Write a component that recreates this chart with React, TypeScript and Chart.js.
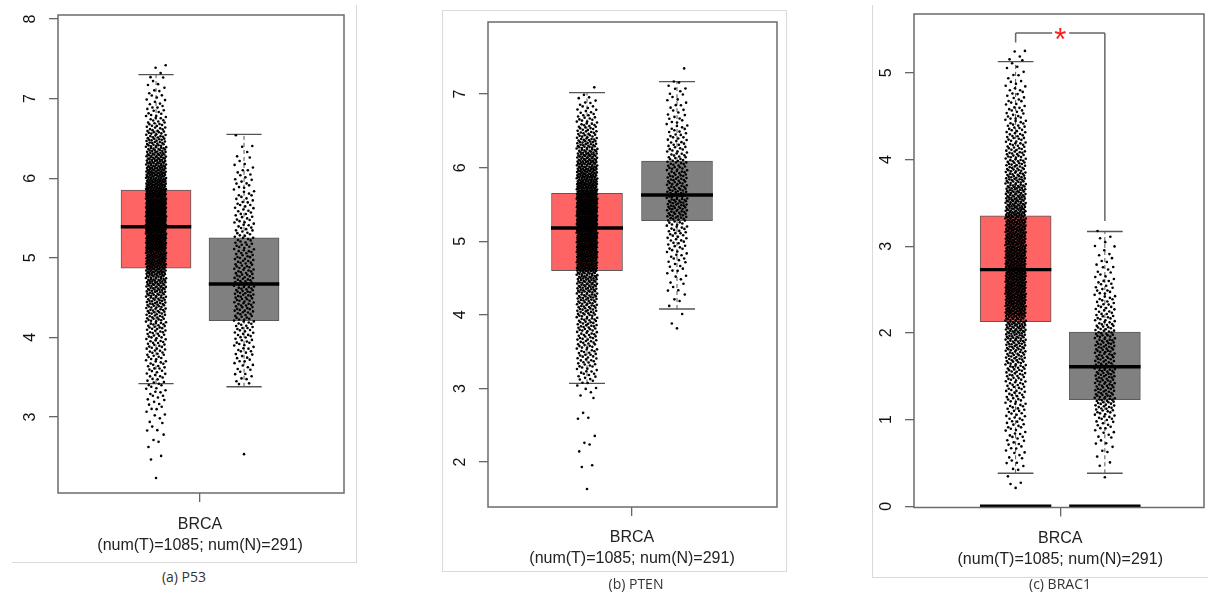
import React, { useEffect, useRef } from "react";
import { Chart, registerables } from "chart.js";

Chart.register(...registerables);

// ---------------- data ----------------
const CATEGORY_LABEL = "BRCA";
const SAMPLE_LABEL = "(num(T)=1085; num(N)=291)";
const PANEL_CAPTIONS = ["(a) P53", "(b) PTEN", "(c) BRAC1"];

const P53_TICKS = [3, 4, 5, 6, 7, 8];
const PTEN_TICKS = [2, 3, 4, 5, 6, 7];
const BRAC1_TICKS = [0, 1, 2, 3, 4, 5];

// [lower whisker, Q1, median, Q3, upper whisker]
const P53_TUMOR_BOX = [3.42, 4.87, 5.39, 5.85, 7.3];
const P53_NORMAL_BOX = [3.38, 4.21, 4.67, 5.25, 6.55];
const PTEN_TUMOR_BOX = [3.07, 4.6, 5.18, 5.65, 7.02];
const PTEN_NORMAL_BOX = [4.08, 5.28, 5.63, 6.09, 7.17];
const BRAC1_TUMOR_BOX = [0.38, 2.13, 2.73, 3.35, 5.13];
const BRAC1_NORMAL_BOX = [0.38, 1.23, 1.61, 2.01, 3.17];

// number of samples per 0.1-wide expression bin, first bin starting at *_FROM
const BIN_WIDTH = 0.1;
const P53_TUMOR_FROM = 2.2;
const P53_TUMOR_COUNTS = [
  1, 0, 1, 1, 2, 2, 3, 3, 4, 5, 6, 7, 8, 9, 10, 11, 12, 13, 14, 16, 18, 20, 22, 25, 28, 31, 38, 44, 48, 52, 55,
  57, 60, 60, 58, 55, 50, 45, 40, 35, 30, 26, 22, 18, 14, 11, 8, 6, 5, 4, 3, 2, 1,
];
const P53_NORMAL_FROM = 2.5;
const P53_NORMAL_COUNTS = [
  1, 0, 0, 0, 0, 0, 0, 0, 0, 5, 5, 6, 7, 8, 9, 10, 11, 13, 14, 15, 16, 16, 15, 14, 13, 12, 11, 10, 9, 9, 8, 8, 7,
  6, 6, 5, 4, 3, 2, 1, 1,
];
const PTEN_TUMOR_FROM = 1.6;
const PTEN_TUMOR_COUNTS = [
  1, 0, 0, 2, 0, 1, 2, 1, 0, 1, 2, 0, 1, 3, 4, 8, 9, 11, 12, 13, 14, 15, 16, 17, 18, 20, 22, 24, 26, 28, 42, 45, 47,
  49, 50, 52, 56, 57, 56, 54, 50, 44, 40, 36, 32, 28, 24, 21, 17, 14, 11, 8, 6, 4, 1,
];
const PTEN_NORMAL_FROM = 3.8;
const PTEN_NORMAL_COUNTS = [
  2, 0, 1, 2, 2, 3, 3, 4, 5, 6, 7, 8, 9, 10, 11, 18, 19, 20, 18, 17, 16, 15, 14, 12, 10, 9, 8, 7, 6, 5, 4, 4, 4, 3,
  0, 1,
];
const BRAC1_TUMOR_FROM = 0.2;
const BRAC1_TUMOR_COUNTS = [
  3, 1, 4, 5, 6, 7, 8, 9, 10, 11, 12, 13, 15, 17, 19, 21, 24, 27, 30, 31, 42, 44, 46, 47, 47, 46, 45, 44, 43, 42,
  40, 38, 34, 31, 28, 25, 22, 20, 18, 16, 14, 12, 11, 9, 8, 7, 6, 4, 3, 4, 2,
];
const BRAC1_NORMAL_FROM = 0.3;
const BRAC1_NORMAL_COUNTS = [
  1, 1, 2, 3, 4, 6, 8, 12, 16, 20, 18, 19, 20, 17, 18, 19, 18, 16, 13, 11, 10, 9, 8, 6, 5, 4, 3, 3, 2,
];
// zero-expression bars (tumor, normal)
const BRAC1_ZERO_LEVEL = [0, 0];
// significance bracket: [top, tumor-side end, normal-side end]
const BRAC1_BRACKET = [5.46, 5.35, 3.29];
const BRAC1_MARK = "*";

// ---------------- styling / layout ----------------
const RED = "#FF6464";
const GREY = "#808080";
const BOX_EDGE = "#5a5a5a";
const FRAME = "#6b6b6b";
const LIGHT = "#dadada";
const FONT = '"Liberation Sans", Arial, sans-serif';
const GROUP_X = [-0.5, 0.5];
const BOX_HALF = 0.4;
const CAP_HALF = 0.2;
const JITTER_HALF = 0.115;

type Spec = {
  left: number; top: number; width: number; height: number;
  padTop: number; padRight: number; yAxisW: number; xAxisH: number;
  xMin: number; xMax: number; yMin: number; yMax: number; bar: number; xPad: number;
  ticks: number[]; tumorBox: number[]; normalBox: number[];
  tumorFrom: number; tumorCounts: number[]; normalFrom: number; normalCounts: number[];
  zero?: number[]; bracket?: number[];
};

const SPECS: Spec[] = [
  {
    left: 0, top: 0, width: 356, height: 560, padTop: 15, padRight: 12, yAxisW: 58, xAxisH: 67,
    xMin: -1.614, xMax: 1.636, yMin: 2.045, yMax: 8.05, bar: 70, xPad: 12.5,
    ticks: P53_TICKS, tumorBox: P53_TUMOR_BOX, normalBox: P53_NORMAL_BOX,
    tumorFrom: P53_TUMOR_FROM, tumorCounts: P53_TUMOR_COUNTS, normalFrom: P53_NORMAL_FROM, normalCounts: P53_NORMAL_COUNTS,
  },
  {
    left: 442, top: 10, width: 345, height: 562, padTop: 12, padRight: 10, yAxisW: 46, xAxisH: 65,
    xMin: -1.6, xMax: 1.611, yMin: 1.389, yMax: 7.98, bar: 71, xPad: 11.5,
    ticks: PTEN_TICKS, tumorBox: PTEN_TUMOR_BOX, normalBox: PTEN_NORMAL_BOX,
    tumorFrom: PTEN_TUMOR_FROM, tumorCounts: PTEN_TUMOR_COUNTS, normalFrom: PTEN_NORMAL_FROM, normalCounts: PTEN_NORMAL_COUNTS,
  },
  {
    left: 872, top: 0, width: 336, height: 578, padTop: 14, padRight: 1.5, yAxisW: 42, xAxisH: 70.5,
    xMin: -1.639, xMax: 1.611, yMin: -0.015, yMax: 5.68, bar: 71, xPad: 11.5,
    ticks: BRAC1_TICKS, tumorBox: BRAC1_TUMOR_BOX, normalBox: BRAC1_NORMAL_BOX,
    tumorFrom: BRAC1_TUMOR_FROM, tumorCounts: BRAC1_TUMOR_COUNTS, normalFrom: BRAC1_NORMAL_FROM, normalCounts: BRAC1_NORMAL_COUNTS,
    zero: BRAC1_ZERO_LEVEL, bracket: BRAC1_BRACKET,
  },
];

// radical inverse (Halton) used for a deterministic jitter layout
function radicalInverse(n: number, base: number) {
  let f = 1;
  let r = 0;
  while (n > 0) {
    f /= base;
    r += f * (n % base);
    n = Math.floor(n / base);
  }
  return r;
}

// samples of each bin are stacked evenly inside the bin and spread sideways
function jitter(from: number, counts: number[], cx: number) {
  const pts: { x: number; y: number }[] = [];
  let i = 0;
  counts.forEach((n, b) => {
    const lo = from + b * BIN_WIDTH;
    for (let k = 0; k < n; k++) {
      i += 1;
      const u = radicalInverse(i, 2);
      const v = radicalInverse(i, 3);
      pts.push({ x: cx + (u * 2 - 1) * JITTER_HALF, y: lo + ((k + v) / n) * BIN_WIDTH });
    }
  });
  return pts;
}

function seg(x0: number, y0: number, x1: number, y1: number, color: string, width: number, dash: number[] = []) {
  return {
    type: "line" as const,
    data: [{ x: x0, y: y0 }, { x: x1, y: y1 }],
    borderColor: color,
    borderWidth: width,
    borderDash: dash,
    borderCapStyle: "butt" as const,
    pointRadius: 0,
    pointHoverRadius: 0,
    showLine: true,
    fill: false,
    tension: 0,
  };
}

function buildConfig(s: Spec): any {
  const boxes = [s.tumorBox, s.normalBox];
  const datasets: any[] = [];
  boxes.forEach((b, g) => {
    datasets.push(seg(GROUP_X[g] - BOX_HALF, b[2], GROUP_X[g] + BOX_HALF, b[2], "#000", 3.4));
  });
  datasets.push({
    type: "scatter", data: jitter(s.tumorFrom, s.tumorCounts, GROUP_X[0]),
    pointRadius: 1.3, pointBorderWidth: 0, backgroundColor: "#000", borderColor: "#000",
  });
  datasets.push({
    type: "scatter", data: jitter(s.normalFrom, s.normalCounts, GROUP_X[1]),
    pointRadius: 1.3, pointBorderWidth: 0, backgroundColor: "#000", borderColor: "#000",
  });
  if (s.zero) {
    s.zero.forEach((z, g) => datasets.push(seg(GROUP_X[g] - BOX_HALF, z, GROUP_X[g] + BOX_HALF, z, "#000", 3.5)));
  }
  if (s.bracket) {
    const [top, l, r] = s.bracket;
    datasets.push(seg(GROUP_X[0], l, GROUP_X[0], top, "#666", 1.5));
    datasets.push(seg(GROUP_X[0], top, -0.09, top, "#666", 1.5));
    datasets.push(seg(0.1, top, GROUP_X[1], top, "#666", 1.5));
    datasets.push(seg(GROUP_X[1], top, GROUP_X[1], r, "#666", 1.5));
  }
  boxes.forEach((b, g) => {
    datasets.push(seg(GROUP_X[g] - CAP_HALF, b[4], GROUP_X[g] + CAP_HALF, b[4], "#555", 1.3));
    datasets.push(seg(GROUP_X[g] - CAP_HALF, b[0], GROUP_X[g] + CAP_HALF, b[0], "#555", 1.3));
    datasets.push(seg(GROUP_X[g], b[3], GROUP_X[g], b[4], "#555", 1, [4, 3]));
    datasets.push(seg(GROUP_X[g], b[0], GROUP_X[g], b[1], "#555", 1, [4, 3]));
  });
  datasets.push({
    type: "bar",
    data: boxes.map((b, g) => ({ x: GROUP_X[g], y: [b[1], b[3]] })),
    backgroundColor: [RED, GREY],
    borderColor: BOX_EDGE,
    borderWidth: 1,
    borderSkipped: false,
    barThickness: s.bar,
    grouped: false,
  });

  const framePlugin = {
    id: "frame",
    afterDraw(chart: any) {
      const { ctx, chartArea: a, scales } = chart;
      ctx.save();
      ctx.strokeStyle = FRAME;
      ctx.lineWidth = 1.5;
      ctx.strokeRect(a.left, a.top, a.right - a.left, a.bottom - a.top);
      if (s.bracket) {
        const size = 31;
        const px = scales.x.getPixelForValue(0);
        const py = scales.y.getPixelForValue(s.bracket[0]);
        ctx.fillStyle = "#ff1a1a";
        ctx.font = `${size}px ${FONT}`;
        ctx.textAlign = "center";
        ctx.textBaseline = "alphabetic";
        ctx.fillText(BRAC1_MARK, px, py + 0.56 * size);
      }
      ctx.restore();
    },
  };

  const grid = { display: true, drawOnChartArea: false, drawTicks: true, tickLength: 9, color: "#666", lineWidth: 1.3 };

  return {
    type: "scatter",
    data: { datasets },
    plugins: [framePlugin],
    options: {
      animation: false,
      responsive: false,
      maintainAspectRatio: false,
      devicePixelRatio: 1,
      events: [],
      layout: { padding: { left: 0, top: s.padTop, right: s.padRight, bottom: 0 } },
      plugins: { legend: { display: false }, tooltip: { enabled: false } },
      scales: {
        x: {
          type: "linear",
          min: s.xMin,
          max: s.xMax,
          offset: false,
          afterBuildTicks: (sc: any) => { sc.ticks = [{ value: 0 }]; },
          afterFit: (sc: any) => {
            sc.height = s.xAxisH;
            sc.paddingLeft = 0;
            sc.paddingRight = 0;
          },
          grid: { ...grid, offset: false },
          border: { display: false },
          ticks: {
            autoSkip: false,
            maxRotation: 0,
            minRotation: 0,
            padding: s.xPad,
            color: "#222",
            font: { family: FONT, size: 16, lineHeight: 1.3125 },
            callback: () => [CATEGORY_LABEL, SAMPLE_LABEL],
          },
        },
        y: {
          type: "linear",
          min: s.yMin,
          max: s.yMax,
          afterBuildTicks: (sc: any) => { sc.ticks = s.ticks.map((v) => ({ value: v })); },
          afterFit: (sc: any) => {
            sc.width = s.yAxisW;
            sc.paddingTop = 0;
            sc.paddingBottom = 0;
          },
          grid,
          border: { display: false },
          ticks: {
            minRotation: 90,
            maxRotation: 90,
            crossAlign: "center",
            padding: 14,
            color: "#111",
            font: { family: FONT, size: 16 },
            callback: (v: number) => String(v),
          },
        },
      },
    },
  };
}

function Panel({ spec }: { spec: Spec }) {
  const ref = useRef<HTMLCanvasElement>(null);
  useEffect(() => {
    const chart = new Chart(ref.current as HTMLCanvasElement, buildConfig(spec));
    return () => chart.destroy();
  }, [spec]);
  return (
    <canvas
      ref={ref}
      width={spec.width}
      height={spec.height}
      style={{ position: "absolute", left: spec.left, top: spec.top, width: spec.width, height: spec.height }}
    />
  );
}

const line = (style: React.CSSProperties) => (
  <div style={{ position: "absolute", background: LIGHT, ...style }} />
);

const CAPTION_POS = [
  { cx: 184, cy: 577 },
  { cx: 636, cy: 584 },
  { cx: 1060, cy: 584 },
];

export default function App() {
  return (
    <div style={{ position: "fixed", left: 0, top: 0, width: 1208, height: 592, background: "#fff", overflow: "hidden" }}>
      {line({ left: 356, top: 5, width: 1, height: 558 })}
      {line({ left: 12, top: 562, width: 345, height: 1 })}
      <div style={{ position: "absolute", left: 442, top: 10, width: 345, height: 562, border: `1px solid ${LIGHT}`, boxSizing: "border-box" }} />
      {line({ left: 872, top: 5, width: 1, height: 573 })}
      {line({ left: 872, top: 577, width: 336, height: 1 })}
      {SPECS.map((s, i) => (
        <Panel key={i} spec={s} />
      ))}
      {PANEL_CAPTIONS.map((c, i) => (
        <div
          key={c}
          style={{
            position: "absolute",
            left: CAPTION_POS[i].cx - 100,
            top: CAPTION_POS[i].cy - 10,
            width: 200,
            height: 20,
            lineHeight: "20px",
            textAlign: "center",
            fontFamily: '"Open Sans", "Noto Sans", sans-serif',
            fontSize: 14,
            color: "#333",
          }}
        >
          {c}
        </div>
      ))}
    </div>
  );
}
